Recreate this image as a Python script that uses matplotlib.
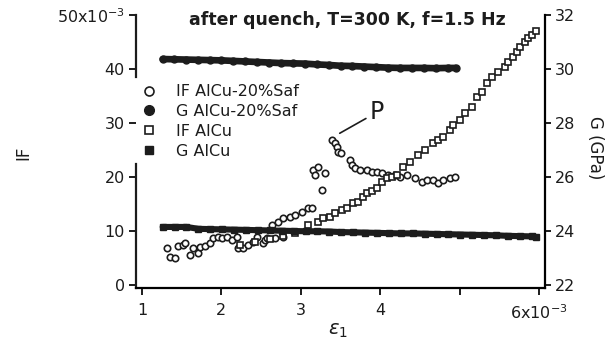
import matplotlib
matplotlib.use('Agg')
import matplotlib.pyplot as plt

# strain amplitude (x 1e-3) and internal friction IF (x 1e-3), modulus G (GPa)
x_if_saf = [1.32, 1.35, 1.42, 1.45, 1.52, 1.54, 1.61, 1.64, 1.71, 1.73, 1.79, 1.86,
            1.89, 1.96, 2.01, 2.07, 2.13, 2.20, 2.21, 2.27, 2.34, 2.40, 2.45, 2.52,
            2.55, 2.57, 2.68, 2.78, 2.64, 2.71, 2.78, 2.86, 2.93, 3.02, 3.09, 3.14,
            3.15, 3.22, 3.18, 3.31, 3.27, 3.39, 3.43, 3.46, 3.47, 3.51, 3.62, 3.65,
            3.68, 3.75, 3.83, 3.90, 3.96, 4.02, 4.10, 4.19, 4.25, 4.34, 4.44, 4.53,
            4.59, 4.67, 4.73, 4.79, 4.88, 4.94]
if_saf = [6.9, 5.2, 5.0, 7.2, 7.4, 7.8, 5.6, 6.9, 5.9, 7.0, 7.2, 7.8,
          8.7, 8.9, 8.7, 8.9, 8.3, 8.9, 6.9, 6.9, 7.4, 8.0, 8.9, 7.8,
          8.3, 8.7, 8.7, 8.9, 11.1, 11.7, 12.4, 12.6, 13.0, 13.5, 14.3, 14.3,
          21.3, 21.9, 20.4, 20.7, 17.6, 26.9, 26.3, 25.6, 24.6, 24.4, 23.1, 22.2,
          21.7, 21.3, 21.3, 20.9, 20.9, 20.7, 20.4, 20.4, 20.0, 20.4, 19.8, 19.1,
          19.4, 19.4, 18.9, 19.4, 19.8, 20.0]

x_if_alcu = [2.23, 2.42, 2.61, 2.78, 2.93, 3.09, 3.22, 3.28, 3.37, 3.43, 3.52, 3.58,
             3.66, 3.72, 3.78, 3.83, 3.90, 3.96, 4.02, 4.09, 4.15, 4.21, 4.29, 4.38,
             4.48, 4.56, 4.67, 4.73, 4.79, 4.88, 4.92, 5.01, 5.07, 5.16, 5.22, 5.28,
             5.35, 5.41, 5.48, 5.57, 5.61, 5.67, 5.72, 5.76, 5.82, 5.86, 5.91, 5.96]
if_alcu = [7.4, 8.0, 8.5, 9.0, 9.6, 11.1, 11.7, 12.4, 12.6, 13.3, 13.9, 14.3,
           15.2, 15.4, 16.3, 17.0, 17.4, 18.0, 19.0, 19.8, 20.0, 20.4, 21.9, 22.8,
           24.0, 25.0, 26.3, 26.8, 27.4, 28.7, 29.6, 30.5, 31.9, 33.0, 34.8, 35.7,
           37.4, 38.5, 39.4, 40.4, 41.3, 42.2, 43.1, 44.0, 45.0, 45.7, 46.3, 47.0]

x_g_saf = [1.26, 1.40, 1.55, 1.70, 1.85, 2.00, 2.15, 2.30, 2.45, 2.60, 2.75, 2.90, 3.05,
           3.20, 3.35, 3.50, 3.65, 3.80, 3.95, 4.10, 4.25, 4.40, 4.55, 4.70, 4.85, 4.95]
g_saf = [30.37, 30.36, 30.35, 30.34, 30.33, 30.32, 30.30, 30.28, 30.26, 30.24, 30.22, 30.21, 30.20,
         30.17, 30.15, 30.12, 30.11, 30.09, 30.07, 30.05, 30.04, 30.04, 30.04, 30.03, 30.04, 30.04]

x_g_alcu = [1.26, 1.41, 1.56, 1.71, 1.86, 2.01, 2.16, 2.31, 2.46, 2.61, 2.76, 2.91, 3.06,
            3.21, 3.36, 3.51, 3.66, 3.81, 3.96, 4.11, 4.26, 4.41, 4.56, 4.71, 4.86, 5.01,
            5.16, 5.31, 5.46, 5.61, 5.76, 5.91, 5.96]
g_alcu = [24.15, 24.15, 24.15, 24.08, 24.07, 24.06, 24.05, 24.04, 24.03, 24.02, 24.01, 24.00, 23.99,
          23.99, 23.98, 23.96, 23.95, 23.94, 23.93, 23.92, 23.91, 23.91, 23.90, 23.89, 23.88, 23.87,
          23.86, 23.85, 23.84, 23.82, 23.81, 23.80, 23.78]

yticks = [0, 10, 20, 30, 40, 50]
ylabels = ['0', '10', '20', '30', '40', '50x10$^{-3}$']
xticks = [1, 2, 3, 4, 5, 6]
xlabels = ['1', '2', '3', '4', '', '6x10$^{-3}$']
gticks = [22, 24, 26, 28, 30, 32]

k = '#1c1c1c'
plt.rcParams['font.family'] = ['DejaVu Sans']

fig = plt.figure(figsize=(6.11, 3.5), dpi=100)
ax = fig.add_axes([0.2226, 0.1771, 0.6694, 0.78])
ax2 = ax.twinx()

ax.set_xlim(0.924, 6.076)
ax.set_ylim(-0.56, 50)
ax2.set_ylim(22 - 0.56 / 5, 32)

h1, = ax.plot(x_if_saf, if_saf, 'o', ms=4.6, mfc='white', mec=k, mew=1.2,
              label='IF AlCu-20%Saf', zorder=3)
h3, = ax.plot(x_if_alcu, if_alcu, 's', ms=4.2, mfc='white', mec=k, mew=1.2,
              label='IF AlCu', zorder=3)
ax2.plot(x_g_saf, g_saf, '-', color=k, lw=4.8, solid_capstyle='round')
h2, = ax2.plot(x_g_saf, g_saf, 'o', ms=5, color=k, label='G AlCu-20%Saf')
ax2.plot(x_g_alcu, g_alcu, '-', color=k, lw=4.4, solid_capstyle='round')
h4, = ax2.plot(x_g_alcu, g_alcu, 's', ms=4.5, color=k, label='G AlCu')

# spines: left one broken around the legend, no top spine
for s in ['top', 'right', 'left']:
    ax.spines[s].set_visible(False)
for s in ['top', 'left', 'bottom']:
    ax2.spines[s].set_visible(False)
ax.spines['bottom'].set_linewidth(1.6)
ax2.spines['right'].set_linewidth(1.6)
tr = ax.get_yaxis_transform()
ax.plot([0, 0], [-0.56, 22.5], color=k, lw=1.6, transform=tr, clip_on=False)
ax.plot([0, 0], [38.5, 50], color=k, lw=1.6, transform=tr, clip_on=False)

ax.set_yticks(yticks)
ax.set_yticklabels(ylabels)
ax.set_xticks(xticks)
ax.set_xticklabels(xlabels)
ax2.set_yticks(gticks)
ax.tick_params(direction='out', length=5, width=1.4, labelsize=11.5, colors=k, pad=3)
ax.tick_params(axis='x', pad=6)
ax2.tick_params(direction='out', length=4, width=1.4, labelsize=11.5, colors=k, pad=3)

leg = ax2.legend([h1, h2, h3, h4], [h.get_label() for h in [h1, h2, h3, h4]],
                 loc='upper left', bbox_to_anchor=(0.005, 0.77), frameon=False,
                 handlelength=0.6, handletextpad=1.4, labelspacing=0.3,
                 fontsize=11.5, markerscale=1.4, borderaxespad=0)
for t in leg.get_texts():
    t.set_color(k)

ax.annotate('P', xy=(3.49, 28.1), xytext=(3.96, 32.0), fontsize=17, color=k,
            ha='center', va='center',
            arrowprops=dict(arrowstyle='-', color=k, lw=1.2, shrinkA=1, shrinkB=0))

fig.text(347.5 / 611, 1 - 20 / 350, 'after quench, T=300 K, f=1.5 Hz',
         ha='center', va='center', fontsize=12.5, fontweight='bold', color=k)
fig.text(23 / 611, 1 - 153 / 350, 'IF', rotation=90, ha='center', va='center',
         fontsize=12, color=k)
fig.text(595 / 611, 1 - 148 / 350, 'G (GPa)', rotation=-90, ha='center', va='center',
         fontsize=12, color=k)
fig.text(338 / 611, 1 - 331 / 350, r'$\varepsilon_1$', ha='center', va='center',
         fontsize=14, color=k)

fig.savefig('out.png', dpi=100)
